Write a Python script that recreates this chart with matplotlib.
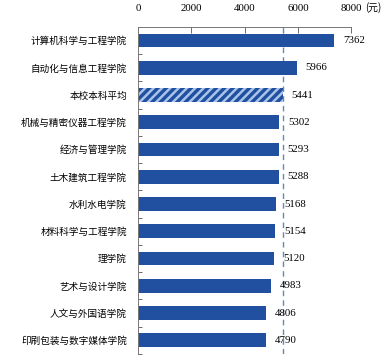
import numpy as np
import matplotlib
matplotlib.use("Agg")
import matplotlib.pyplot as plt
from matplotlib.ticker import FixedLocator

plt.rcParams['font.family'] = ['Noto Sans CJK SC', 'DejaVu Sans']
plt.rcParams['hatch.linewidth'] = 1.8

# 各学院数据（元）
colleges = ['计算机科学与工程学院', '自动化与信息工程学院', '本校本科平均',
            '机械与精密仪器工程学院', '经济与管理学院', '土木建筑工程学院',
            '水利水电学院', '材料科学与工程学院', '理学院', '艺术与设计学院',
            '人文与外国语学院', '印刷包装与数字媒体学院']
salary = [7362, 5966, 5441, 5302, 5293, 5288, 5168, 5154, 5120, 4983, 4806, 4790]
avg_value = 5441
xticks = [0, 2000, 4000, 6000, 8000]

fig = plt.figure(figsize=(3.91, 3.63), dpi=100)
ax = fig.add_axes([0.353, 0.025, 0.545, 0.901])

y = np.arange(len(colleges))
dark = '#2150a0'
for i, (name, v) in enumerate(zip(colleges, salary)):
    if name == '本校本科平均':
        ax.barh(i, v, height=0.5, color=dark, edgecolor='#a9c3ea',
                hatch='////', linewidth=0, zorder=2)
    else:
        ax.barh(i, v, height=0.5, color=dark, linewidth=0, zorder=2)
    ax.text(v + 330, i, str(v), va='center', ha='left', fontsize=7.8,
            family=['Liberation Serif'], zorder=3)

ax.axvline(avg_value, color='#6a86b0', linestyle=(0, (4, 3)), linewidth=1.0, zorder=1)

ax.set_xlim(0, 8000)
ax.set_ylim(len(colleges) - 0.5, -0.5)
ax.xaxis.tick_top()
ax.set_xticks(xticks)
ax.set_xticklabels([str(t) for t in xticks], fontsize=7.8, family=['Liberation Serif'])
ax.tick_params(axis='x', direction='in', length=4, width=0.6, color='#555555', pad=10)
# 单位
ax.annotate('(元)', xy=(8000, 1.0), xycoords=('data', 'axes fraction'),
            xytext=(10, 10), textcoords='offset points', ha='left', va='bottom',
            fontsize=7.0)

ax.set_yticks(y)
ax.set_yticklabels(colleges, fontsize=6.9)
ax.yaxis.set_minor_locator(FixedLocator(np.arange(-0.5, len(colleges), 1.0)))
ax.tick_params(axis='y', which='major', length=0, pad=8)
ax.tick_params(axis='y', which='minor', direction='in', length=3, width=0.6, color='#555555')

for s in ['right', 'bottom']:
    ax.spines[s].set_visible(False)
for s in ['top', 'left']:
    ax.spines[s].set_color('#777777')
    ax.spines[s].set_linewidth(0.7)

fig.savefig('out.png', dpi=100)
